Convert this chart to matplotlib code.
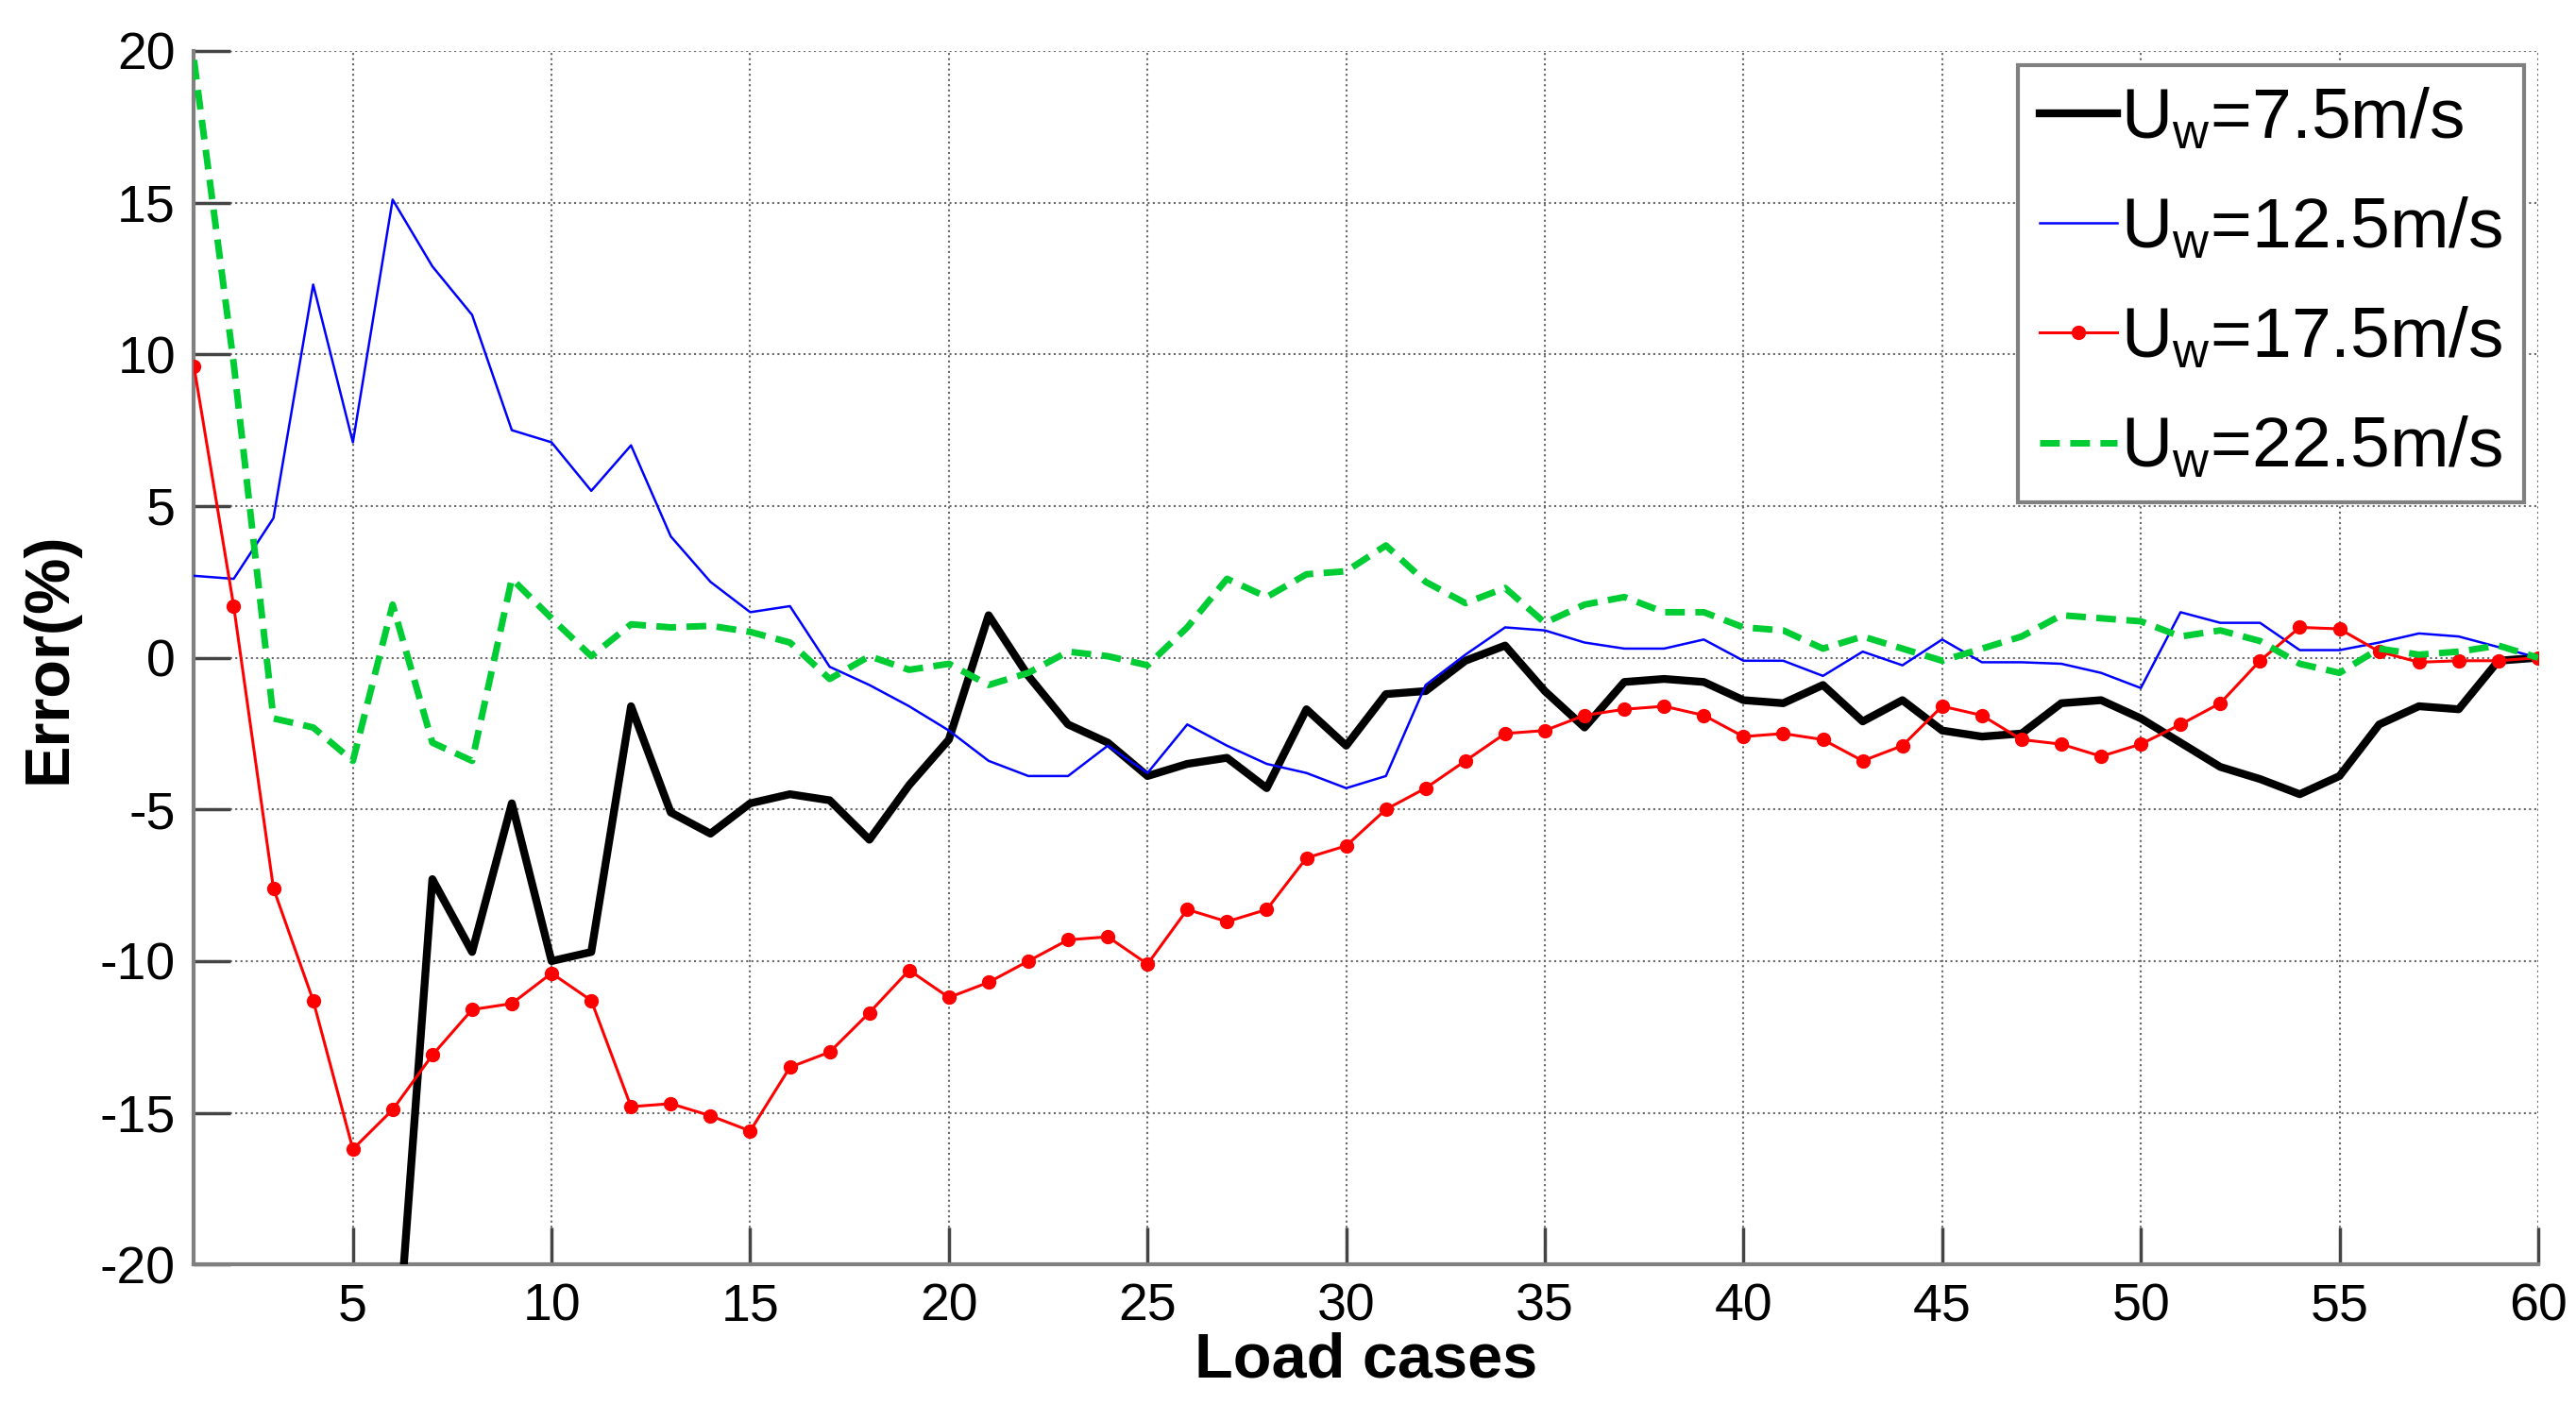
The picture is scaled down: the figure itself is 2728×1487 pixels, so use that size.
import numpy as np
import matplotlib
matplotlib.use("Agg")
import matplotlib.pyplot as plt

plt.rcParams['font.family'] = ['Liberation Sans', 'DejaVu Sans']
plt.rcParams['mathtext.default'] = 'regular'
plt.rcParams['axes.unicode_minus'] = False

# load cases 1..60
cases = np.arange(1, 61)

# Uw = 7.5 m/s (first points fall below the -20 limit, not readable)
err_75 = [np.nan, np.nan, np.nan, np.nan, np.nan, -25.0, -7.3, -9.7, -4.8, -10.0,
          -9.7, -1.6, -5.1, -5.8, -4.8, -4.5, -4.7, -6.0, -4.2, -2.7,
          1.4, -0.6, -2.2, -2.8, -3.9, -3.5, -3.3, -4.3, -1.7, -2.9,
          -1.2, -1.1, -0.1, 0.4, -1.1, -2.3, -0.8, -0.7, -0.8, -1.4,
          -1.5, -0.9, -2.1, -1.4, -2.4, -2.6, -2.5, -1.5, -1.4, -2.0,
          -2.8, -3.6, -4.0, -4.5, -3.9, -2.2, -1.6, -1.7, -0.1, 0.0]

# Uw = 12.5 m/s
err_125 = [2.7, 2.6, 4.6, 12.3, 7.1, 15.1, 12.9, 11.3, 7.5, 7.1,
           5.5, 7.0, 4.0, 2.5, 1.5, 1.7, -0.3, -0.9, -1.6, -2.4,
           -3.4, -3.9, -3.9, -2.9, -3.8, -2.2, -2.9, -3.5, -3.8, -4.3,
           -3.9, -0.9, 0.1, 1.0, 0.9, 0.5, 0.3, 0.3, 0.6, -0.1,
           -0.1, -0.6, 0.2, -0.25, 0.6, -0.15, -0.15, -0.2, -0.5, -1.0,
           1.5, 1.15, 1.15, 0.25, 0.25, 0.5, 0.8, 0.7, 0.35, 0.0]

# Uw = 17.5 m/s
err_175 = [9.6, 1.7, -7.6, -11.3, -16.2, -14.9, -13.1, -11.6, -11.4, -10.4,
           -11.3, -14.8, -14.7, -15.1, -15.6, -13.5, -13.0, -11.7, -10.3, -11.2,
           -10.7, -10.0, -9.3, -9.2, -10.1, -8.3, -8.7, -8.3, -6.6, -6.2,
           -5.0, -4.3, -3.4, -2.5, -2.4, -1.9, -1.7, -1.6, -1.9, -2.6,
           -2.5, -2.7, -3.4, -2.9, -1.6, -1.9, -2.7, -2.85, -3.25, -2.85,
           -2.2, -1.5, -0.1, 1.0, 0.95, 0.2, -0.15, -0.1, -0.1, 0.0]

# Uw = 22.5 m/s
err_225 = [19.7, 9.7, -2.0, -2.3, -3.4, 1.75, -2.8, -3.4, 2.6, 1.3,
           0.05, 1.1, 1.0, 1.05, 0.85, 0.5, -0.7, 0.05, -0.4, -0.2,
           -0.9, -0.5, 0.2, 0.05, -0.25, 1.0, 2.6, 2.0, 2.75, 2.85,
           3.7, 2.5, 1.8, 2.3, 1.15, 1.75, 2.0, 1.5, 1.5, 1.0,
           0.9, 0.3, 0.7, 0.3, -0.1, 0.3, 0.7, 1.4, 1.3, 1.2,
           0.7, 0.9, 0.55, -0.2, -0.5, 0.3, 0.1, 0.2, 0.4, 0.0]

labels = ['$U_w$=7.5m/s', '$U_w$=12.5m/s', '$U_w$=17.5m/s', '$U_w$=22.5m/s']

fig = plt.figure(figsize=(27.28, 14.87), dpi=100)
ax = fig.add_axes([0.0753, 0.0994, 0.91, 0.8643])

ax.plot(cases, err_75, color='black', lw=6, label=labels[0], zorder=3)
ax.plot(cases, err_125, color='#0000ff', lw=1.8, label=labels[1], zorder=3)
ax.plot(cases, err_175, color='#ff0000', lw=2.2, marker='o', ms=10,
        label=labels[2], zorder=3)
ax.plot(cases, err_225, color='#00cc33', lw=5, ls=(0, (3, 1.6)),
        label=labels[3], zorder=3)

ax.set_xlim(1, 60)
ax.set_ylim(-20, 20)
ax.set_xticks(np.arange(5, 61, 5))
ax.set_yticks(np.arange(-20, 21, 5))
ax.grid(True, ls=':', color='#666666', lw=1.5)

for s in ['top', 'right']:
    ax.spines[s].set_visible(False)
for s in ['left', 'bottom']:
    ax.spines[s].set_color('#808080')
    ax.spines[s].set_linewidth(3)
ax.tick_params(direction='in', length=28, width=2.5, color='#444444',
               labelsize=40, pad=14)

ax.set_xlabel('Load cases', fontsize=48, fontweight='bold', labelpad=0)
ax.set_ylabel('Error(%)', fontsize=48, fontweight='bold', labelpad=16)

leg = ax.legend(loc='upper right', fontsize=54, handlelength=1.1,
                handletextpad=0.05, labelspacing=0.62, borderpad=0.3,
                fancybox=False, framealpha=1, borderaxespad=0.2)
leg.get_frame().set_edgecolor('#808080')
leg.get_frame().set_linewidth(3)

fig.savefig('out.png', dpi=100)
